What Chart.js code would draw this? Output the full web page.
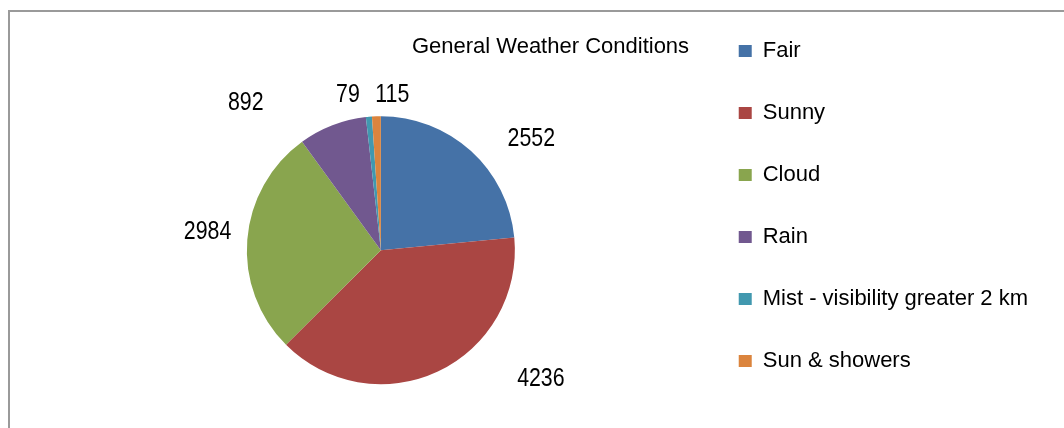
<!DOCTYPE html>
<html>
<head>
<meta charset="utf-8">
<script src="https://cdn.jsdelivr.net/npm/chart.js@4/dist/chart.umd.min.js"></script>
<style>
  html, body { margin: 0; padding: 0; background: #fff; }
  #wrap { width: 1064px; height: 428px; position: relative; }
</style>
</head>
<body>
<div id="wrap"><canvas id="pie" width="1064" height="428"></canvas></div>
<script>
const chartTitle = 'General Weather Conditions';
const categories = ['Fair', 'Sunny', 'Cloud', 'Rain', 'Mist - visibility greater 2 km', 'Sun & showers'];
const counts = [2552, 4236, 2984, 892, 79, 115];
const sliceColors = ['#4572A7', '#AA4643', '#89A54E', '#71588F', '#4198AF', '#DB843D'];

// label placement around the pie (degrees clockwise from 3 o'clock, distance in radii)
const labelAngles = [-36.4, 38.7, 185.9, 227.4, 258, 274.2];
const labelDist = [1.395, 1.53, 1.30, 1.49, 1.183, 1.16];

const FONT = "'Liberation Sans', Arial, sans-serif";

const framePlugin = {
    id: 'frame',
    beforeDraw(chart) {
        const ctx = chart.ctx;
        ctx.save();
        ctx.strokeStyle = '#9a9a9a';
        ctx.lineWidth = 2;
        ctx.beginPath();
        ctx.moveTo(9, chart.height);
        ctx.lineTo(9, 11);
        ctx.lineTo(chart.width, 11);
        ctx.stroke();
        ctx.restore();
    }
};

// value labels, drawn a bit condensed like the original narrow font
const labelsPlugin = {
    id: 'sliceLabels',
    afterDraw(chart) {
        const ctx = chart.ctx;
        const meta = chart.getDatasetMeta(0);
        const squeeze = 0.82;
        ctx.save();
        ctx.fillStyle = '#000';
        ctx.font = '26px ' + FONT;
        ctx.textAlign = 'center';
        ctx.textBaseline = 'middle';
        meta.data.forEach((arc, i) => {
            const a = labelAngles[i] * Math.PI / 180;
            const d = arc.outerRadius * labelDist[i];
            const x = arc.x + Math.cos(a) * d;
            const y = arc.y + Math.sin(a) * d;
            ctx.save();
            ctx.translate(x, y);
            ctx.scale(squeeze, 1);
            ctx.fillText(String(counts[i]), 0, 0);
            ctx.restore();
        });
        ctx.restore();
    }
};

new Chart(document.getElementById('pie'), {
    type: 'pie',
    data: {
        labels: categories,
        datasets: [{
            data: counts,
            backgroundColor: sliceColors,
            borderWidth: 0,
            radius: 134
        }]
    },
    options: {
        responsive: false,
        animation: false,
        layout: { padding: { left: 63, right: 26, top: 0, bottom: 0 } },
        plugins: {
            title: {
                display: true,
                text: chartTitle,
                color: '#000',
                font: { family: FONT, size: 22, weight: 'normal' },
                padding: { top: 34, bottom: 12 }
            },
            tooltip: { enabled: false },
            legend: {
                position: 'right',
                align: 'start',
                labels: {
                    boxWidth: 13,
                    boxHeight: 12,
                    padding: 40,
                    color: '#000',
                    font: { family: FONT, size: 22 }
                }
            }
        }
    },
    plugins: [framePlugin, labelsPlugin]
});
</script>
</body>
</html>
